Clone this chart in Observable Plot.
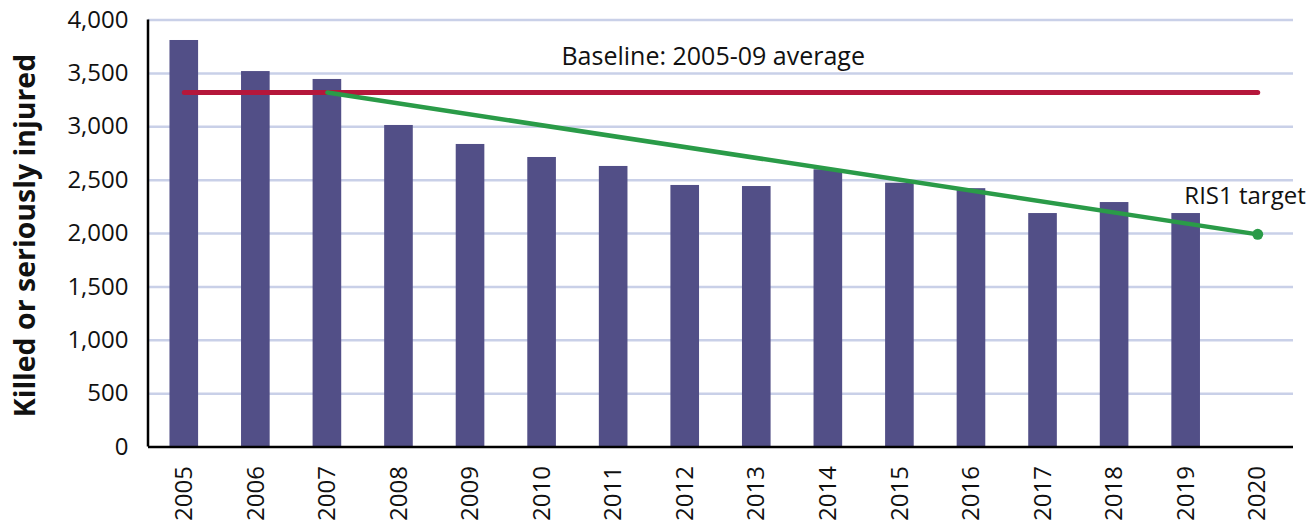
<!DOCTYPE html>
<html>
<head>
<meta charset="utf-8">
<script src="https://cdn.jsdelivr.net/npm/d3@7"></script>
<script src="https://cdn.jsdelivr.net/npm/@observablehq/plot@0.6"></script>
<style>
  html, body { margin: 0; padding: 0; background: #fff; }
</style>
</head>
<body>
<div id="chart"></div>
<script>
const years = ["2005","2006","2007","2008","2009","2010","2011","2012","2013","2014","2015","2016","2017","2018","2019","2020"];
const ksiYears = ["2005","2006","2007","2008","2009","2010","2011","2012","2013","2014","2015","2016","2017","2018","2019"];
const ksiValues = [3808, 3517, 3443, 3012, 2834, 2712, 2628, 2450, 2440, 2597, 2471, 2420, 2187, 2290, 2187];
const baselineValue = 3320;
const targetStartYear = "2007";
const targetEndYear = "2020";
const targetValue = 1992;
const yTicks = [0, 500, 1000, 1500, 2000, 2500, 3000, 3500, 4000];
const yTitle = "Killed or seriously injured";
const baselineLabel = "Baseline: 2005-09 average";
const targetLabel = "RIS1 target";

const bars = ksiYears.map((year, i) => ({year, value: ksiValues[i]}));
const baselineLine = [{year: years[0], value: baselineValue}, {year: years[years.length - 1], value: baselineValue}];
const targetLine = [{year: targetStartYear, value: baselineValue}, {year: targetEndYear, value: targetValue}];

const yAxisLine = (index, scales, values, dims) => {
  const line = document.createElementNS("http://www.w3.org/2000/svg", "line");
  line.setAttribute("x1", dims.marginLeft);
  line.setAttribute("x2", dims.marginLeft);
  line.setAttribute("y1", scales.y(0));
  line.setAttribute("y2", scales.y(4000));
  line.setAttribute("stroke", "black");
  line.setAttribute("stroke-width", 2.5);
  return line;
};

const chart = Plot.plot({
  width: 1311,
  height: 522,
  marginLeft: 148,
  marginRight: 18,
  marginTop: 19.5,
  marginBottom: 75.5,
  style: {fontFamily: "'Open Sans', sans-serif", fontSize: "24px", color: "#111", background: "white"},
  x: {domain: years, paddingInner: 0.6, paddingOuter: 0.3, round: false, label: null},
  y: {domain: [0, 4000], label: null},
  marks: [
    Plot.gridY(yTicks.filter(d => d > 0), {stroke: "#c9d0e8", strokeOpacity: 1, strokeWidth: 2.5}),
    Plot.barY(bars, {x: "year", y: "value", fill: "#524f87"}),
    Plot.ruleY([0], {stroke: "black", strokeWidth: 2.5}),
    yAxisLine,
    Plot.axisY(yTicks, {tickSize: 0, tickPadding: 20, tickFormat: d3.format(","), fontSize: 24, label: null}),
    Plot.axisX({tickSize: 0, tickRotate: -90, tickPadding: 19, fontSize: 24, label: null}),
    Plot.line(baselineLine, {x: "year", y: "value", stroke: "#b5173b", strokeWidth: 5, strokeLinecap: "round"}),
    Plot.line(targetLine, {x: "year", y: "value", stroke: "#2a9b48", strokeWidth: 4.5, strokeLinecap: "round"}),
    Plot.dot([targetLine[1]], {x: "year", y: "value", r: 5.5, fill: "#2a9b48"}),
    Plot.text([baselineLabel], {x: () => "2012", y: () => baselineValue, dx: 28, dy: -36, fontSize: 25, fill: "#111", text: d => d}),
    Plot.text([targetLabel], {x: () => targetEndYear, y: () => targetValue, dx: 48, dy: -38, textAnchor: "end", fontSize: 24, fill: "#111", text: d => d}),
    Plot.text([yTitle], {frameAnchor: "left", textAnchor: "middle", rotate: -90, dx: -123, dy: 2, fontSize: 28.5, fontWeight: "bold", fill: "#111", text: d => d})
  ]
});
document.getElementById("chart").appendChild(chart);
</script>
</body>
</html>
